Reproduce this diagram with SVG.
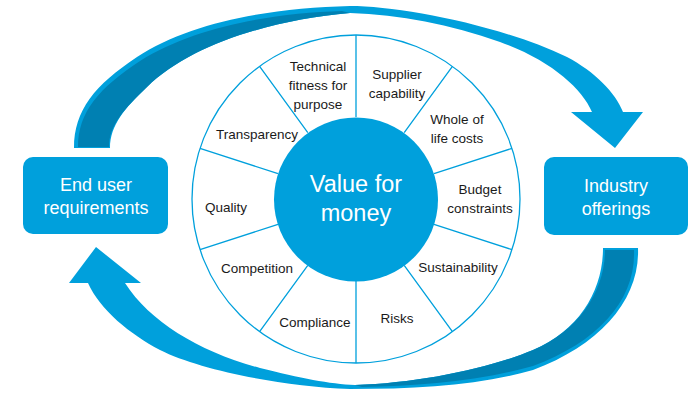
<svg xmlns="http://www.w3.org/2000/svg" width="697" height="405" viewBox="0 0 697 405">
<style>
.lt{fill:#00A0DC}
.dk{fill:#0080B2}
.wl{fill:none;stroke:#00A0DC;stroke-width:1.3}
.lbl{font-family:"Liberation Sans",Arial,sans-serif;font-size:13.5px;fill:#1a1a1a;text-anchor:middle}
.nt{font-family:"Liberation Sans",Arial,sans-serif;font-size:18px;fill:#ffffff;text-anchor:middle}
.ct{font-family:"Liberation Sans",Arial,sans-serif;font-size:23.5px;fill:#ffffff;text-anchor:middle}
</style>
<rect width="697" height="405" fill="#ffffff"/>
<g id="connectors">
  <g id="arrow-top">
    <path class="lt" d="M74,148 C74,110 95,85 137,57 C190,22 270,8 350,6 C400,6 500,25 567,57 C595,72 615,92 623,112 L643,112 L615,148 L571,112 L592,112 C582,88 550,60 500,42 C450,24 400,15 350,13 C270,20 190,45 147,87 C125,108 110,125 110,148 Z"/>
    <path class="dk" d="M78,147 C78,112 99,88 140,61 C192,28 270,13 342,11 L350,13 C270,20 190,45 147,87 C125,108 109,125 109,147 Z"/>
  </g>
  <g id="arrow-bottom">
    <path class="lt" d="M603,248 L638,248 C640,300 600,345 533,370 C480,385 420,389 350,389 C280,386 200,370 160,350 C130,334 100,310 88,283 L69,283 L96,247 L141,283 L125,283 C150,322 200,352 260,368 C300,378 330,384 355,385 C420,383 490,368 533,350 C580,330 603,290 603,248 Z"/>
    <path class="dk" d="M605,250 L634,250 C636,300 598,342 533,366 C480,381 420,386 362,387 L355,385 C420,383 490,368 533,350 C580,330 605,290 605,250 Z"/>
  </g>
</g>
<g id="wheel">
  <circle class="wl" cx="356" cy="199" r="164"/>
  <path class="wl" d="M356,117 L356,35 M404.2,132.7 L452.4,66.3 M434,173.7 L512,148.3 M434,224.3 L512,249.7 M404.2,265.3 L452.4,331.7 M356,281 L356,363 M307.8,265.3 L259.6,331.7 M278,224.3 L200,249.7 M278,173.7 L200,148.3 M307.8,132.7 L259.6,66.3"/>
</g>
<g id="seg-technical"><text class="lbl" x="318" y="71">Technical</text><text class="lbl" x="318" y="90">fitness for</text><text class="lbl" x="318" y="109">purpose</text></g>
<g id="seg-supplier"><text class="lbl" x="397" y="79">Supplier</text><text class="lbl" x="397" y="98">capability</text></g>
<g id="seg-whole"><text class="lbl" x="457" y="124">Whole of</text><text class="lbl" x="457" y="143">life costs</text></g>
<g id="seg-budget"><text class="lbl" x="480" y="194">Budget</text><text class="lbl" x="480" y="213">constraints</text></g>
<g id="seg-sustainability"><text class="lbl" x="458" y="272">Sustainability</text></g>
<g id="seg-risks"><text class="lbl" x="397" y="323">Risks</text></g>
<g id="seg-compliance"><text class="lbl" x="315" y="327">Compliance</text></g>
<g id="seg-competition"><text class="lbl" x="257" y="273">Competition</text></g>
<g id="seg-quality"><text class="lbl" x="226" y="212">Quality</text></g>
<g id="seg-transparency"><text class="lbl" x="257" y="139">Transparency</text></g>
<g id="center">
  <circle class="lt" cx="356" cy="199.5" r="82"/>
  <text class="ct" x="356" y="192">Value for</text>
  <text class="ct" x="356" y="221">money</text>
</g>
<g id="node-end-user">
  <rect class="lt" x="23" y="157" width="145" height="77" rx="10"/>
  <text class="nt" x="96" y="191">End user</text>
  <text class="nt" x="96" y="214">requirements</text>
</g>
<g id="node-industry">
  <rect class="lt" x="544" y="157" width="144" height="78" rx="10"/>
  <text class="nt" x="616" y="192">Industry</text>
  <text class="nt" x="616" y="215">offerings</text>
</g>
</svg>
